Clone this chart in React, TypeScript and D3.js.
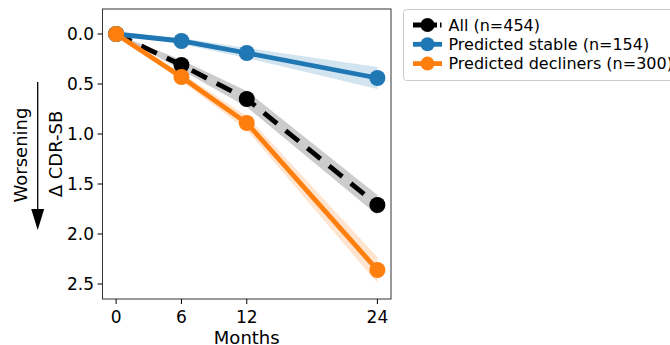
import React from "react";
import * as d3 from "d3";

// months and mean change in CDR-SB (with band half-widths)
const months = [0, 6, 12, 24];
const allMean = [0, 0.31, 0.65, 1.71];
const allErr = [0, 0.05, 0.08, 0.1];
const stableMean = [0, 0.07, 0.19, 0.44];
const stableErr = [0, 0.03, 0.05, 0.11];
const declinerMean = [0, 0.43, 0.89, 2.36];
const declinerErr = [0, 0.04, 0.07, 0.13];
const yTicks = [0, 0.5, 1.0, 1.5, 2.0, 2.5];
const legendLabels = ["All (n=454)", "Predicted stable (n=154)", "Predicted decliners (n=300)"];

const W = 670;
const H = 345;
const plot = { left: 102.5, right: 391, top: 9, bottom: 299 };

const App = () => {
    const x = d3.scaleLinear().domain([-1.25, 25.25]).range([plot.left, plot.right]);
    const y = d3.scaleLinear().domain([-0.25, 2.65]).range([plot.top, plot.bottom]);

    const series = [
        { mean: allMean, err: allErr, color: "#000000", band: "#cccccc", dash: "17,11" },
        { mean: stableMean, err: stableErr, color: "#1f77b4", band: "rgba(31,119,180,0.2)", dash: null },
        { mean: declinerMean, err: declinerErr, color: "#ff7f0e", band: "rgba(255,127,14,0.2)", dash: null },
    ];

    const line = d3.line<number>().x((d, i) => x(months[i])).y((d) => y(d));

    const area = (mean: number[], err: number[]) =>
        d3
            .area<number>()
            .x((d, i) => x(months[i]))
            .y0((d, i) => y(mean[i] - err[i]))
            .y1((d, i) => y(mean[i] + err[i]))(mean);

    const font = "DejaVu Sans, sans-serif";

    return (
        <div style={{ position: "fixed", left: 0, top: 0 }}>
            <svg width={W} height={H} style={{ display: "block", background: "#fff" }} fontFamily={font}>
                {/* confidence bands */}
                {series.map((s, k) => (
                    <path key={"b" + k} d={area(s.mean, s.err) || ""} fill={s.band} stroke="none" />
                ))}
                {/* lines and markers, drawn in legend order */}
                {series.map((s, k) => (
                    <g key={"l" + k}>
                        <path
                            d={line(s.mean) || ""}
                            fill="none"
                            stroke={s.color}
                            strokeWidth={4.8}
                            strokeDasharray={s.dash || undefined}
                        />
                        {s.mean.map((v, i) => (
                            <circle key={i} cx={x(months[i])} cy={y(v)} r={8} fill={s.color} />
                        ))}
                    </g>
                ))}

                {/* frame */}
                <rect
                    x={plot.left}
                    y={plot.top}
                    width={plot.right - plot.left}
                    height={plot.bottom - plot.top}
                    fill="none"
                    stroke="#333"
                    strokeWidth={1}
                />

                {/* x axis */}
                {months.map((m) => (
                    <g key={"x" + m}>
                        <line x1={x(m)} x2={x(m)} y1={plot.bottom} y2={plot.bottom + 5} stroke="#000" />
                        <text x={x(m)} y={322.5} fontSize={17} textAnchor="middle">
                            {m}
                        </text>
                    </g>
                ))}
                <text x={(plot.left + plot.right) / 2} y={343.5} fontSize={18} textAnchor="middle">
                    Months
                </text>

                {/* y axis */}
                {yTicks.map((t) => (
                    <g key={"y" + t}>
                        <line x1={plot.left - 5} x2={plot.left} y1={y(t)} y2={y(t)} stroke="#000" />
                        <text x={plot.left - 8.5} y={y(t) + 6.2} fontSize={17} textAnchor="end">
                            {t.toFixed(1)}
                        </text>
                    </g>
                ))}
                <text transform={`translate(62,154) rotate(-90)`} fontSize={18} textAnchor="middle">
                    Δ CDR-SB
                </text>
                <text transform={`translate(27,155) rotate(-90)`} fontSize={18} textAnchor="middle">
                    Worsening
                </text>
                <line x1={37.7} x2={37.7} y1={82} y2={212} stroke="#000" strokeWidth={1.3} />
                <path d="M31.2,209 L44.2,209 L37.7,230 Z" fill="#000" />

                {/* legend */}
                <rect x={403.5} y={9.5} width={280} height={71} rx={3} fill="#fff" stroke="#ccc" strokeWidth={1} />
                {series.map((s, k) => {
                    const ly = 25 + k * 19.3;
                    return (
                        <g key={"lg" + k}>
                            <line
                                x1={413}
                                x2={442}
                                y1={ly}
                                y2={ly}
                                stroke={s.color}
                                strokeWidth={4.8}
                                strokeDasharray={s.dash ? "24,3,1.5,10" : undefined}
                            />
                            <circle cx={427.5} cy={ly} r={7} fill={s.color} />
                            <text x={448.5} y={ly + 5.8} fontSize={16}>
                                {legendLabels[k]}
                            </text>
                        </g>
                    );
                })}
            </svg>
        </div>
    );
};

export default App;
